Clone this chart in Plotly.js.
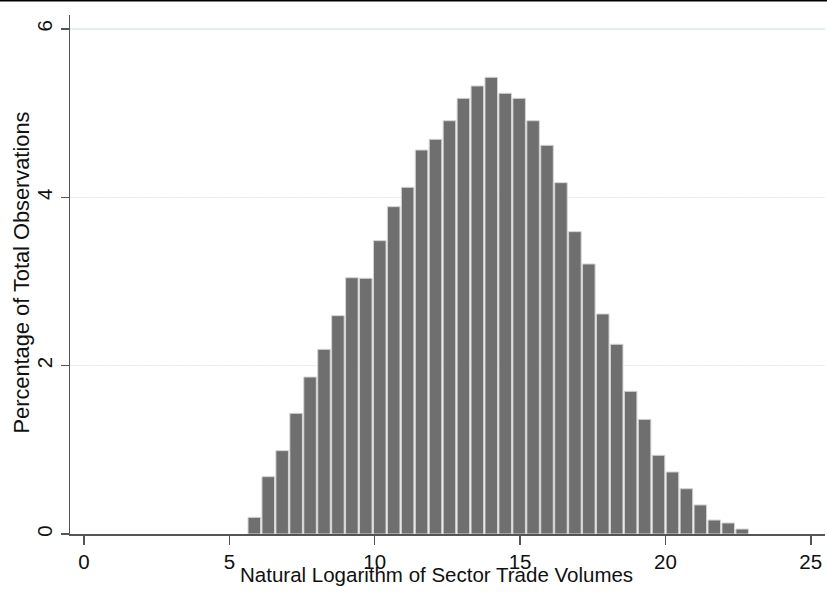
<!DOCTYPE html>
<html>
<head>
<meta charset="utf-8">
<script src="https://cdn.plot.ly/plotly-3.0.1.min.js"></script>
<style>
  html, body { margin: 0; padding: 0; background: #ffffff; }
  #chart { width: 827px; height: 592px; }
</style>
</head>
<body>
<div id="chart"></div>
<script>
// Histogram of log sector trade volumes: 36 equal-width bins
const binStart = 5.618;
const binWidth = 0.4795;
const percentages = [
  0.198, 0.681, 0.990, 1.434, 1.865, 2.194, 2.594, 3.045, 3.038,
  3.485, 3.889, 4.119, 4.562, 4.689, 4.910, 5.176, 5.323, 5.426,
  5.236, 5.176, 4.910, 4.618, 4.174, 3.592, 3.208, 2.614, 2.254,
  1.695, 1.362, 0.935, 0.737, 0.538, 0.345, 0.166, 0.131, 0.059
];
const xTicks = [0, 5, 10, 15, 20, 25];
const yTicks = [0, 2, 4, 6];
const xTitle = 'Natural Logarithm of Sector Trade Volumes';
const yTitle = 'Percentage of Total Observations';

const binCenters = percentages.map((_, i) => binStart + (i + 0.5) * binWidth);

const trace = {
  type: 'bar',
  x: binCenters,
  y: percentages,
  width: binWidth * 0.9,
  marker: {
    color: '#6f6f6f',
    line: { color: '#d4d4d4', width: 1 }
  },
  hoverinfo: 'x+y'
};

const family = 'Liberation Sans, Arial, sans-serif';
const tickFont = { family: family, size: 20.5, color: '#111111' };

// plot area in pixels: x 70..825, y 15..534
const plotW = 755, plotH = 519;

const layout = {
  width: 827,
  height: 592,
  margin: { l: 70, r: 2, t: 15, b: 58 },
  paper_bgcolor: '#ffffff',
  plot_bgcolor: '#ffffff',
  showlegend: false,
  font: tickFont,
  xaxis: {
    range: [-0.482, 25.49],
    tickvals: xTicks,
    ticktext: xTicks.map(String),
    ticks: 'outside',
    ticklen: 9,
    tickwidth: 1.5,
    tickcolor: '#555555',
    showline: true,
    linecolor: '#555555',
    linewidth: 1.5,
    showgrid: false,
    zeroline: false,
    tickfont: tickFont
  },
  yaxis: {
    range: [0, 6.166],
    tickvals: yTicks,
    ticktext: yTicks.map(String),
    tickangle: -90,
    ticks: 'outside',
    ticklen: 8,
    tickwidth: 1.5,
    tickcolor: '#555555',
    showline: true,
    linecolor: '#555555',
    linewidth: 1.5,
    showgrid: true,
    gridcolor: '#e6eff2',
    gridwidth: 1.5,
    zeroline: false,
    tickfont: tickFont
  },
  annotations: [
    {
      text: xTitle,
      xref: 'paper', yref: 'paper',
      x: (436 - 70) / plotW, y: -(562 - 534) / plotH,
      xanchor: 'center', yanchor: 'top',
      showarrow: false,
      borderpad: 0,
      font: { family: family, size: 20.5, color: '#111111' }
    },
    {
      text: yTitle,
      textangle: -90,
      xref: 'paper', yref: 'paper',
      x: (21 - 70) / plotW, y: (534 - 272.5) / plotH,
      xanchor: 'center', yanchor: 'middle',
      showarrow: false,
      borderpad: 0,
      font: { family: family, size: 21.8, color: '#111111' }
    }
  ],
  shapes: [{
    type: 'line',
    xref: 'paper', yref: 'paper',
    x0: -70 / plotW, x1: 1 + 2 / plotW,
    y0: 1 + 14.5 / plotH, y1: 1 + 14.5 / plotH,
    line: { color: '#000000', width: 2 }
  }]
};

Plotly.newPlot('chart', [trace], layout, { displayModeBar: false, staticPlot: true });
</script>
</body>
</html>
